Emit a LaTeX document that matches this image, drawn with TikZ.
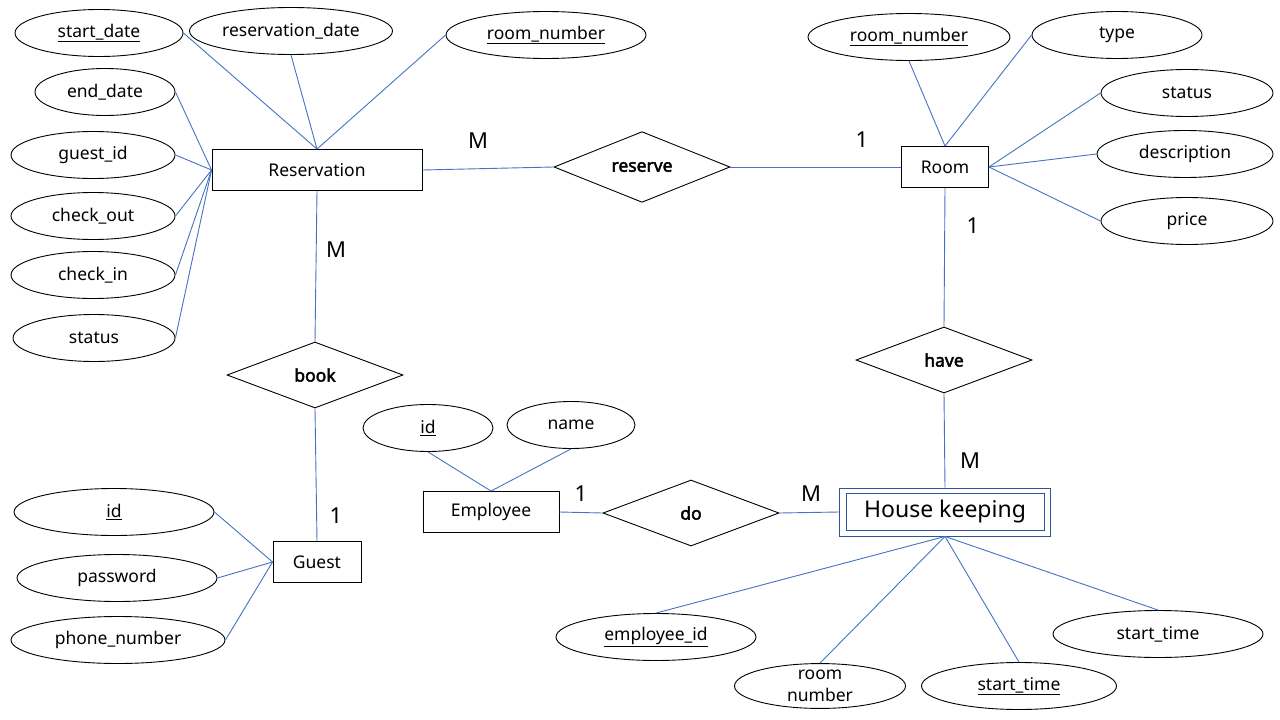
\documentclass[tikz,border=0pt]{standalone}
\usepackage{fontspec}
\setmainfont{Noto Sans}[AutoFakeBold=2.5]
\usetikzlibrary{shapes.geometric}
\definecolor{linkblue}{RGB}{68,114,196}
\definecolor{weakblue}{RGB}{47,85,151}

\begin{document}
\begin{tikzpicture}[x=1pt, y=-1pt,
    attr/.style={ellipse, draw, line width=0.9pt, inner sep=0pt, minimum width=#1, minimum height=47, font=\fontsize{17.5}{21}\selectfont},
    entity/.style={rectangle, draw, line width=0.9pt, inner sep=0pt, minimum width=#1, minimum height=41, font=\fontsize{17.5}{21}\selectfont},
    rel/.style={diamond, draw, line width=0.9pt, inner sep=0pt, minimum width=176, minimum height=66, font=\fontsize{17.5}{21}\selectfont\bfseries},
    card/.style={font=\fontsize{22}{26}\selectfont},
    conn/.style={draw=linkblue, line width=0.9pt}]
        \useasboundingbox (0,0) rectangle (1280,720);

        % entities
        \node[entity=210](res) at (317,170){Reservation};
        \node[entity=87](room) at (945,167){Room};
        \node[entity=88](guest) at (317,562){Guest};
        \node[entity=136](emp) at (491,512){Employee};
        \node[rectangle, draw=weakblue, line width=0.9pt, inner sep=0pt, minimum width=211, minimum height=48, font=\fontsize{23}{27}\selectfont](hk) at (945,512){House keeping};
        \draw[weakblue, line width=0.9pt]([shift={(7,6)}]hk.north west) rectangle ([shift={(-7,-6)}]hk.south east);

        % relationships
        \node[rel](reserve) at (642,167){reserve};
        \node[rel](book) at (315,375){book};
        \node[rel](have) at (944,360){have};
        \node[rel](do) at (691,513){do};

        % Reservation attributes
        \node[attr=168](rsdate) at (99,33){\underline{start\_date}};
        \node[attr=203](rrdate) at (291,31){reservation\_date};
        \node[attr=200](rroom) at (546,35){\underline{room\_number}};
        \node[attr=140](redate) at (105,92){end\_date};
        \node[attr=164](rguest) at (93,155){guest\_id};
        \node[attr=164](rout) at (93,216){check\_out};
        \node[attr=164](rin) at (93,275){check\_in};
        \node[attr=162](rstat) at (94,338){status};

        % Room attributes
        \node[attr=202](mnum) at (909,37){\underline{room\_number}};
        \node[attr=170](mtype) at (1117,35){type};
        \node[attr=172](mstat) at (1187,93){status};
        \node[attr=176](mdesc) at (1185,154){description};
        \node[attr=172](mprice) at (1187,221){price};

        % Guest attributes
        \node[attr=200](gid) at (114,512){\underline{id}};
        \node[attr=200](gpw) at (117,578){password};
        \node[attr=214](gphone) at (118,640){phone\_number};

        % Employee attributes
        \node[attr=130](eid) at (428,428){\underline{id}};
        \node[attr=128](ename) at (571,425){name};

        % House keeping attributes
        \node[attr=200](heid) at (656,637){\underline{employee\_id}};
        \node[attr=171, minimum height=44, align=center, font=\fontsize{17.5}{22}\selectfont](hroom) at (820,686){room\\number};
        \node[attr=195](hstart) at (1019,686){\underline{start\_time}};
        \node[attr=210](hstart2) at (1158,634){start\_time};

        % attribute links
        \draw[conn](rsdate.east)--(res.north);
        \draw[conn](rrdate.south)--(res.north);
        \draw[conn](rroom.west)--(res.north);
        \foreach \a in {redate,rguest,rout,rin,rstat}
            \draw[conn](\a.east)--(res.west);
        \draw[conn](mnum.south)--(room.north);
        \draw[conn](mtype.west)--(room.north);
        \foreach \a in {mstat,mdesc,mprice}
            \draw[conn](\a.west)--(room.east);
        \foreach \a in {gid,gpw,gphone}
            \draw[conn](\a.east)--(guest.west);
        \draw[conn](eid.south)--(emp.north);
        \draw[conn](ename.south)--(emp.north);
        \foreach \a in {heid,hroom,hstart,hstart2}
            \draw[conn](\a.north)--(hk.south);

        % relationship links
        \draw[conn](res.east)--(reserve.west);
        \draw[conn](reserve.east)--(room.west);
        \draw[conn](res.south)--(book.north);
        \draw[conn](book.south)--(guest.north);
        \draw[conn](room.south)--(have.north);
        \draw[conn](have.south)--(hk.north);
        \draw[conn](emp.east)--(do.west);
        \draw[conn](do.east)--(hk.west);

        % cardinalities
        \node[card](c1) at (478,141){M};
        \node[card](c2) at (862,140){1};
        \node[card](c3) at (336,250){M};
        \node[card](c4) at (336,516){1};
        \node[card](c5) at (973,226){1};
        \node[card](c6) at (970,461){M};
        \node[card](c7) at (581,494){1};
        \node[card](c8) at (811,494){M};
    \end{tikzpicture}
\end{document}
